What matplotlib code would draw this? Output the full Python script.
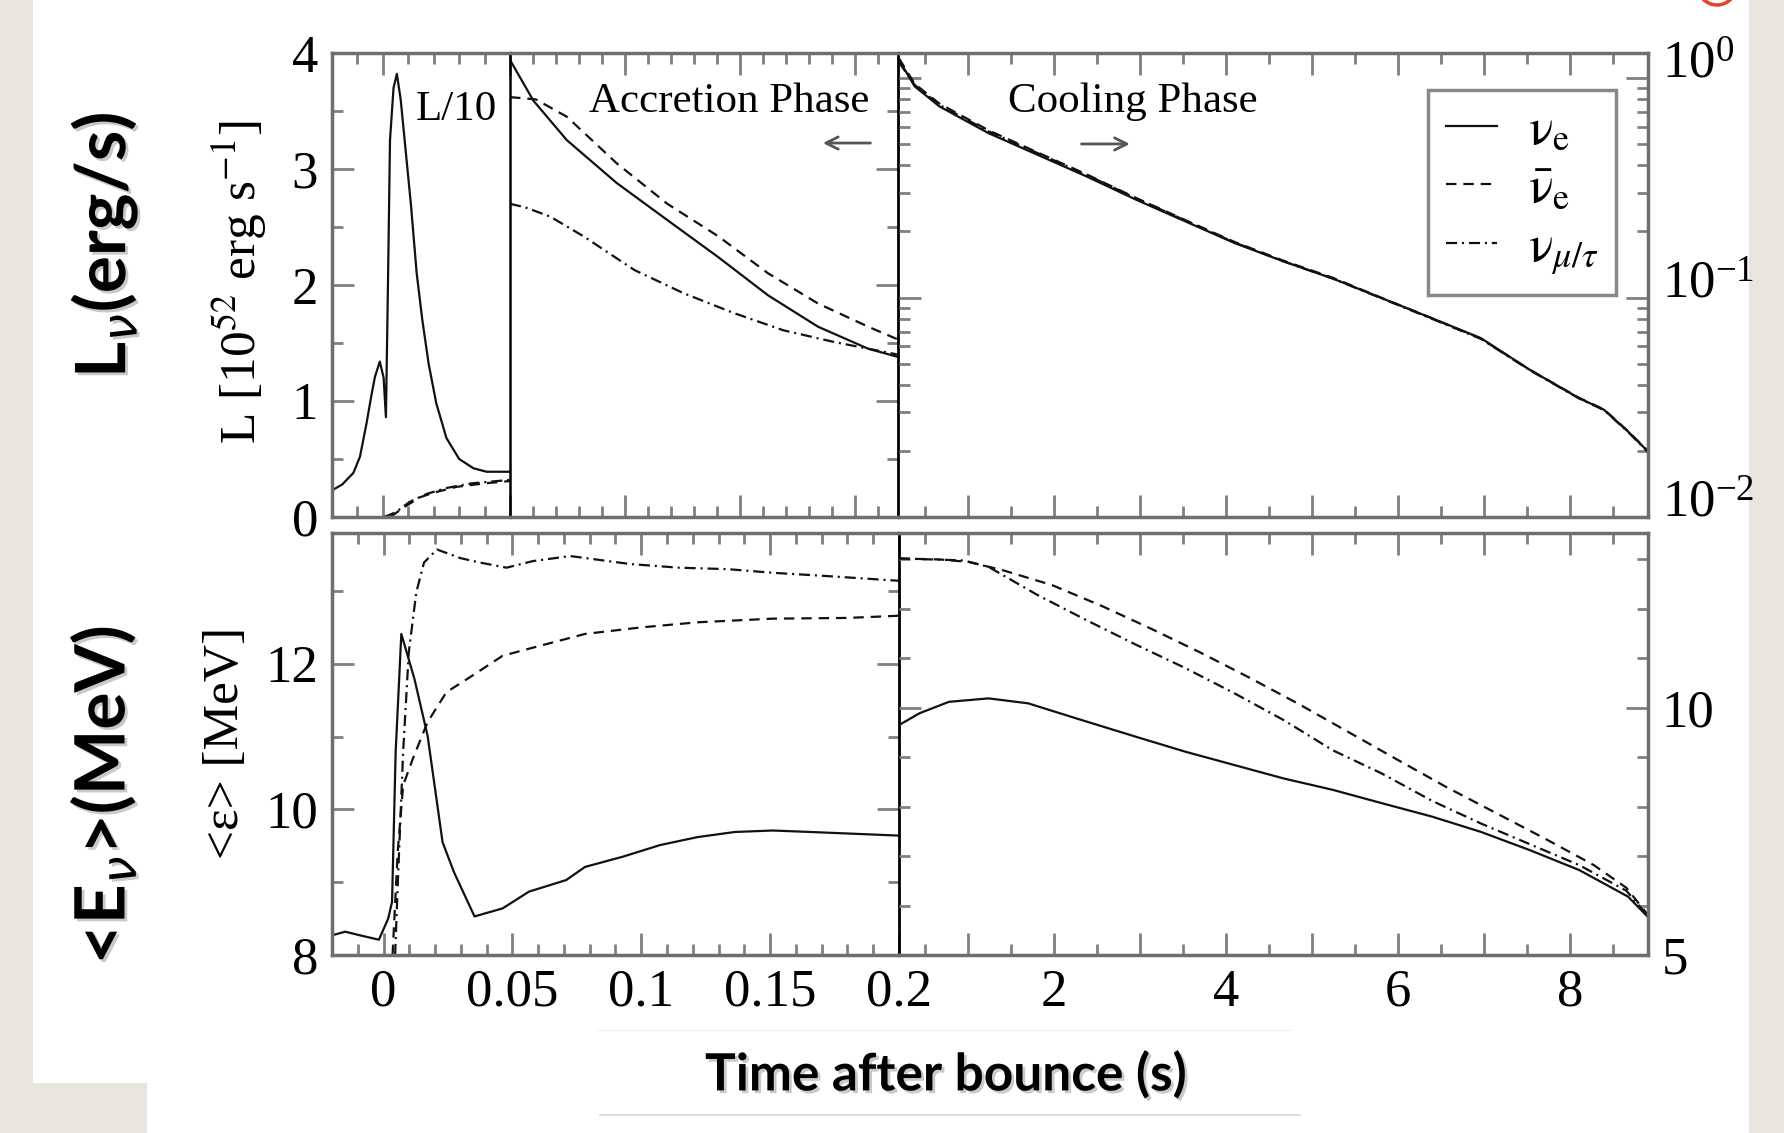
import numpy as np
import matplotlib
matplotlib.use('Agg')
import matplotlib.pyplot as plt
import matplotlib.patheffects as pe
from matplotlib.ticker import MultipleLocator, LogLocator, NullFormatter, FuncFormatter
from matplotlib.patches import Rectangle, Circle
from matplotlib.lines import Line2D
from matplotlib.transforms import IdentityTransform

plt.rcParams['font.family'] = 'Liberation Serif'
plt.rcParams['mathtext.fontset'] = 'stix'
plt.rcParams['lines.scale_dashes'] = False

# --- luminosity, early part (plotted as L/10) ---
t_l10_nue = [-0.02, -0.016, -0.0116, -0.009, -0.0064, -0.0045, -0.0031, -0.0012, 0.0003,
             0.0012, 0.0020, 0.0028, 0.0042, 0.0055, 0.0070, 0.0090, 0.0110, 0.0133,
             0.0155, 0.0180, 0.0210, 0.0250, 0.0300, 0.0356, 0.0408, 0.05]
l10_nue = [0.23, 0.28, 0.38, 0.52, 0.81, 1.05, 1.21, 1.34, 1.20,
           0.86, 2.00, 3.25, 3.70, 3.82, 3.60, 3.15, 2.70, 2.10,
           1.70, 1.32, 0.98, 0.68, 0.50, 0.42, 0.39, 0.39]
t_l10_anue = [0.003, 0.008, 0.0146, 0.020, 0.029, 0.040, 0.05]
l10_anue = [0.0, 0.08, 0.17, 0.21, 0.26, 0.29, 0.31]
t_l10_nux = [0.0005, 0.005, 0.0105, 0.0174, 0.025, 0.035, 0.05]
l10_nux = [0.0, 0.04, 0.13, 0.20, 0.25, 0.29, 0.32]

# --- luminosity, accretion phase ---
t_acc_nue = [0.05, 0.059, 0.0719, 0.0912, 0.1108, 0.1305, 0.1498, 0.1691, 0.1885, 0.2]
lum_acc_nue = [3.94, 3.59, 3.25, 2.88, 2.56, 2.24, 1.91, 1.64, 1.45, 1.38]
t_acc_anue = [0.05, 0.060, 0.072, 0.0912, 0.1108, 0.1305, 0.1498, 0.1691, 0.1885, 0.2]
lum_acc_anue = [3.62, 3.60, 3.45, 3.05, 2.70, 2.42, 2.10, 1.84, 1.64, 1.53]
t_acc_nux = [0.05, 0.0558, 0.0655, 0.0784, 0.098, 0.117, 0.1363, 0.1556, 0.175, 0.2]
lum_acc_nux = [2.70, 2.67, 2.59, 2.42, 2.13, 1.93, 1.76, 1.61, 1.51, 1.40]

# --- luminosity, cooling phase ---
t_cool = [0.2, 0.383, 0.669, 1.24, 1.81, 2.38, 2.955, 3.53, 4.10, 4.67, 5.24,
          5.81, 6.39, 6.96, 7.53, 8.10, 8.39, 8.67, 8.9]
lum_cool_nue = [1.21, 0.916, 0.743, 0.561, 0.447, 0.356, 0.279, 0.222, 0.177, 0.146, 0.122,
                0.0993, 0.0805, 0.0653, 0.0468, 0.0348, 0.0308, 0.0245, 0.0199]
lum_cool_anue = [1.23, 0.94, 0.765, 0.578, 0.458, 0.364, 0.284, 0.225, 0.179, 0.147, 0.123,
                 0.0995, 0.0805, 0.0650, 0.0468, 0.0349, 0.0309, 0.0246, 0.0200]
lum_cool_nux = [1.18, 0.93, 0.755, 0.572, 0.455, 0.362, 0.283, 0.224, 0.178, 0.146, 0.122,
                0.0990, 0.0800, 0.0648, 0.0466, 0.0347, 0.0307, 0.0244, 0.0198]

# --- mean energy, early part ---
t_e_nue = [-0.02, -0.0149, -0.0091, -0.0018, 0.0018, 0.0033, 0.0047, 0.0069, 0.012, 0.0171,
           0.0229, 0.0273, 0.0353, 0.0462, 0.0564, 0.0709, 0.0782, 0.0928, 0.1073, 0.1219,
           0.1364, 0.151, 0.1655, 0.2]
e_nue = [8.27, 8.32, 8.27, 8.21, 8.50, 8.73, 10.79, 12.41, 11.79, 11.01,
         9.55, 9.14, 8.53, 8.64, 8.87, 9.03, 9.21, 9.35, 9.51, 9.62,
         9.69, 9.71, 9.69, 9.64]
t_e_anue = [0.0035, 0.0055, 0.0076, 0.0113, 0.0171, 0.0244, 0.0346, 0.0462, 0.0578, 0.0782,
            0.1, 0.1219, 0.151, 0.18, 0.2]
e_anue = [8.0, 9.42, 10.33, 10.69, 11.20, 11.61, 11.84, 12.11, 12.22, 12.41,
          12.50, 12.57, 12.62, 12.63, 12.66]
t_e_nux = [0.0045, 0.0055, 0.0076, 0.0098, 0.0127, 0.0157, 0.0207, 0.0300, 0.0375, 0.0477,
           0.0579, 0.0724, 0.0957, 0.1146, 0.1335, 0.151, 0.1698, 0.2]
e_nux = [8.0, 8.96, 10.79, 12.16, 12.98, 13.39, 13.57, 13.45, 13.39, 13.32,
         13.41, 13.48, 13.37, 13.32, 13.30, 13.25, 13.21, 13.14]

# --- mean energy, cooling phase ---
t_ec_nue = [0.2, 0.44, 0.78, 1.24, 1.70, 2.27, 2.96, 3.53, 4.10, 4.67, 5.24, 5.81,
            6.39, 6.96, 7.53, 8.10, 8.67, 8.9]
ec_nue = [9.65, 9.89, 10.12, 10.19, 10.09, 9.78, 9.41, 9.11, 8.84, 8.57, 8.34, 8.07,
          7.80, 7.49, 7.12, 6.72, 6.18, 5.77]
t_ec_anue = [0.2, 0.67, 1.01, 1.41, 1.98, 2.555, 3.127, 3.698, 4.27, 4.84, 5.41, 5.98,
             6.555, 7.127, 7.698, 8.27, 8.65, 8.9]
ec_anue = [13.02, 13.00, 12.95, 12.78, 12.48, 12.06, 11.60, 11.12, 10.61, 10.08, 9.52, 8.96,
           8.40, 7.88, 7.36, 6.82, 6.36, 5.81]
t_ec_nux = [0.2, 0.95, 1.24, 1.81, 2.38, 2.96, 3.53, 4.10, 4.67, 5.24, 5.81, 6.39,
            6.96, 7.53, 8.10, 8.65, 8.9]
ec_nux = [13.02, 12.98, 12.85, 12.28, 11.77, 11.27, 10.80, 10.29, 9.75, 9.14, 8.67, 8.12,
          7.66, 7.24, 6.82, 6.30, 5.79]

labels = [r'$\mathrm{\nu}_\mathrm{e}$', r'$\bar{\mathrm{\nu}}_\mathrm{e}$',
          r'$\mathrm{\nu}_{\mu/\tau}$']
st_nue = dict(color='#111111', lw=1.6, ls='-')
st_anue = dict(color='#111111', lw=1.6, dashes=(7.5, 5))
st_nux = dict(color='#111111', lw=1.6, dashes=(8, 3.5, 1.5, 3.5))

FRAME = '#6e6e6e'
TICK = '#808080'
TSIZE = 38

fig = plt.figure(figsize=(17.84, 11.33), dpi=100)
fig.patch.set_facecolor('#e7e5de')
fig.add_artist(Rectangle((0.0185, 0), 0.9619, 1, transform=fig.transFigure,
                         facecolor='white', edgecolor='none', zorder=-10))
fig.add_artist(Rectangle((0, 0), 0.0824, 0.0441, transform=fig.transFigure,
                         facecolor='#e7e5de', edgecolor='none', zorder=-9))
fig.add_artist(Line2D([597 / 1784, 1291 / 1784], [1 - 1030 / 1133] * 2,
                      transform=fig.transFigure, color='#eeeeee', lw=1))
fig.add_artist(Line2D([600 / 1784, 1300 / 1784], [1 - 1115 / 1133] * 2,
                      transform=fig.transFigure, color='#d6d6d6', lw=1.2))
fig.add_artist(Circle((1717, 1147), 19, transform=IdentityTransform(), fill=False,
                      edgecolor='#e8402a', lw=2.5))

ax_l10 = fig.add_axes([0.1861, 0.5437, 0.0998, 0.4095])
ax_acc = fig.add_axes([0.2859, 0.5437, 0.2175, 0.4095])
ax_cool = fig.add_axes([0.5039, 0.5437, 0.4198, 0.4095])
ax_el = fig.add_axes([0.1861, 0.1571, 0.3178, 0.3727])
ax_er = fig.add_axes([0.5039, 0.1571, 0.4198, 0.3727])


def frame(ax):
    ax.set_facecolor('none')
    for sp in ax.spines.values():
        sp.set_color(FRAME)
        sp.set_linewidth(2.5)
    ax.tick_params(which='both', direction='in', color=TICK, width=2,
                   labelsize=TSIZE, pad=10)
    ax.tick_params(which='major', length=16)
    ax.tick_params(which='minor', length=8)


for ax in (ax_l10, ax_acc, ax_cool, ax_el, ax_er):
    frame(ax)

# top row: luminosities
ax_l10.plot(t_l10_nue, l10_nue, **st_nue)
ax_l10.plot(t_l10_anue, l10_anue, **st_anue)
ax_l10.plot(t_l10_nux, l10_nux, **st_nux)
ax_l10.set_xlim(-0.02, 0.05)
ax_l10.set_ylim(0, 4)
ax_l10.yaxis.set_major_locator(MultipleLocator(1))
ax_l10.yaxis.set_minor_locator(MultipleLocator(0.5))
ax_l10.xaxis.set_major_locator(MultipleLocator(0.05))
ax_l10.xaxis.set_minor_locator(MultipleLocator(0.01))
ax_l10.tick_params(which='both', top=True, bottom=True, right=False, labelbottom=False)
ax_l10.spines['right'].set_visible(False)
ax_l10.text(0.697, 0.877, 'L/10', transform=ax_l10.transAxes, ha='center',
            va='center', fontsize=31)

ax_acc.plot(t_acc_nue, lum_acc_nue, **st_nue)
ax_acc.plot(t_acc_anue, lum_acc_anue, **st_anue)
ax_acc.plot(t_acc_nux, lum_acc_nux, **st_nux)
ax_acc.set_xlim(0.05, 0.2)
ax_acc.set_ylim(0, 4)
ax_acc.yaxis.set_major_locator(MultipleLocator(1))
ax_acc.yaxis.set_minor_locator(MultipleLocator(0.5))
ax_acc.tick_params(axis='y', which='both', left=False, right=True, labelleft=False)
ax_acc.tick_params(axis='x', which='both', bottom=False, top=False, labelbottom=False)
ax_acc.spines['left'].set_color('black')
ax_acc.spines['left'].set_linewidth(1.8)
ax_acc.spines['right'].set_color('black')
ax_acc.spines['right'].set_linewidth(2)


# the accretion panel's x ticks are spaced a bit tighter than its data scale
def acc_fwd(x):
    return 0.05 + (x - 0.05) * 1.125


def acc_inv(x):
    return 0.05 + (x - 0.05) / 1.125


for side in ('top', 'bottom'):
    sec = ax_acc.secondary_xaxis(side, functions=(acc_fwd, acc_inv))
    sec.xaxis.set_major_locator(MultipleLocator(0.05))
    sec.xaxis.set_minor_locator(MultipleLocator(0.01))
    sec.xaxis.set_major_formatter(NullFormatter())
    sec.tick_params(which='both', direction='in', color=TICK, width=2)
    sec.tick_params(which='major', length=16)
    sec.tick_params(which='minor', length=8)
    for sp in sec.spines.values():
        sp.set_visible(False)

ax_acc.text(0.564, 0.894, 'Accretion Phase', transform=ax_acc.transAxes,
            ha='center', va='center', fontsize=31)
ax_acc.annotate('', xy=(0.799, 0.806), xytext=(0.936, 0.806), xycoords='axes fraction',
                arrowprops=dict(arrowstyle='->', color='#555555', lw=2, mutation_scale=22))

h1, = ax_cool.plot(t_cool, lum_cool_nue, **st_nue)
h2, = ax_cool.plot(t_cool, lum_cool_anue, **st_anue)
h3, = ax_cool.plot(t_cool, lum_cool_nux, **st_nux)
ax_cool.set_yscale('log')
ax_cool.set_xlim(0.2, 8.9)
ax_cool.set_ylim(0.01, 1.30)
ax_cool.yaxis.set_major_locator(LogLocator(base=10))
ax_cool.yaxis.set_minor_locator(LogLocator(base=10, subs=np.arange(2, 10)))
ax_cool.yaxis.set_minor_formatter(NullFormatter())
ax_cool.xaxis.set_major_locator(MultipleLocator(1))
ax_cool.xaxis.set_minor_locator(MultipleLocator(0.5))
ax_cool.tick_params(which='both', top=True, bottom=True, left=True, right=True,
                    labelleft=False, labelright=True, labelbottom=False)
ax_cool.spines['left'].set_visible(False)
ax_cool.text(0.312, 0.894, 'Cooling Phase', transform=ax_cool.transAxes,
             ha='center', va='center', fontsize=31)
ax_cool.annotate('', xy=(0.312, 0.804), xytext=(0.240, 0.804), xycoords='axes fraction',
                 arrowprops=dict(arrowstyle='->', color='#555555', lw=2, mutation_scale=22))
leg = ax_cool.legend([h1, h2, h3], labels, loc='upper left', bbox_to_anchor=(0.706, 0.92),
                     borderaxespad=0, fontsize=37, handlelength=1.0, handletextpad=0.6,
                     labelspacing=0.22, borderpad=0.35, fancybox=False, framealpha=1,
                     edgecolor='#888888')
leg.get_frame().set_linewidth(2.5)

# bottom row: mean energies
ax_el.plot(t_e_nue, e_nue, **st_nue)
ax_el.plot(t_e_anue, e_anue, **st_anue)
ax_el.plot(t_e_nux, e_nux, **st_nux)
ax_el.set_xlim(-0.02, 0.2)
ax_el.set_ylim(8, 13.8)
ax_el.set_xticks([0, 0.05, 0.1, 0.15, 0.2], ['0', '0.05', '0.1', '0.15', '0.2'])
ax_el.xaxis.set_minor_locator(MultipleLocator(0.01))
ax_el.yaxis.set_major_locator(MultipleLocator(2))
ax_el.yaxis.set_minor_locator(MultipleLocator(1))
ax_el.tick_params(which='both', top=True, right=True)
ax_el.spines['right'].set_color('black')
ax_el.spines['right'].set_linewidth(2)

ax_er.plot(t_ec_nue, ec_nue, **st_nue)
ax_er.plot(t_ec_anue, ec_anue, **st_anue)
ax_er.plot(t_ec_nux, ec_nux, **st_nux)
ax_er.set_xlim(0.2, 8.9)
ax_er.set_ylim(5, 13.54)
ax_er.xaxis.set_major_locator(MultipleLocator(1))
ax_er.xaxis.set_minor_locator(MultipleLocator(0.5))
ax_er.xaxis.set_major_formatter(FuncFormatter(lambda v, p: f'{v:.0f}' if v % 2 == 0 else ''))
ax_er.yaxis.set_major_locator(MultipleLocator(5))
ax_er.yaxis.set_minor_locator(MultipleLocator(1))
ax_er.tick_params(which='both', top=True, left=True, right=True,
                  labelleft=False, labelright=True)
ax_er.spines['left'].set_visible(False)

for lbl in ax_cool.get_yticklabels():
    lbl.set_verticalalignment('baseline')

# axis titles
shadow = [pe.withSimplePatchShadow(offset=(2, -2), shadow_rgbFace='#888888', alpha=0.45)]
fig.text(239 / 1784, 1 - 282 / 1133, r'L [10$^{52}$ erg s$^{-1}$]', rotation=90,
         ha='center', va='center', fontsize=37)
fig.text(226 / 1784, 1 - 743 / 1133, '<ε> [MeV]', rotation=90,
         ha='center', va='center', fontsize=37)
fig.text(105 / 1784, 1 - 245 / 1133, r'L$_{\nu}$(erg/s)', rotation=90,
         ha='center', va='center', fontsize=50, fontweight='bold', family='Lato',
         math_fontfamily='dejavusans', path_effects=shadow)
fig.text(103 / 1784, 1 - 795 / 1133, r'<E$_{\nu}$>(MeV)', rotation=90,
         ha='center', va='center', fontsize=50, fontweight='bold', family='Lato',
         math_fontfamily='dejavusans', path_effects=shadow)
fig.text(946 / 1784, 1 - 1075 / 1133, 'Time after bounce (s)', ha='center', va='center',
         fontsize=37, fontweight='bold', family='Lato', path_effects=shadow)

fig.savefig('out.png', dpi=100, facecolor=fig.get_facecolor())
